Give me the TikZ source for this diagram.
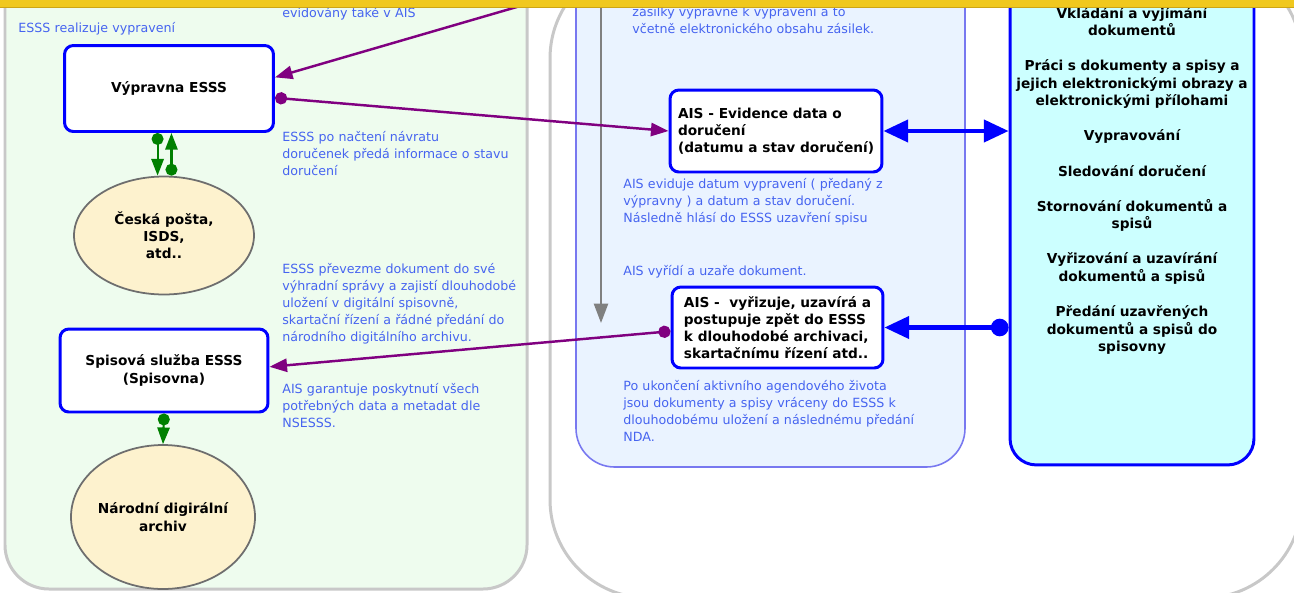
\documentclass[tikz,border=0pt]{standalone}
\usepackage{fontspec}
\setmainfont{DejaVu Sans}
\usetikzlibrary{arrows.meta,shapes.geometric}

\definecolor{zlutalista}{RGB}{240,200,30}
\definecolor{zlutaokraj}{RGB}{205,165,20}
\definecolor{sedaramu}{RGB}{200,200,200}
\definecolor{zelenypanel}{RGB}{238,252,238}
\definecolor{modrypanel}{RGB}{234,243,255}
\definecolor{modraramu}{RGB}{120,120,240}
\definecolor{azurova}{RGB}{204,255,255}
\definecolor{plnamodra}{RGB}{0,0,255}
\definecolor{poznamkova}{RGB}{70,100,240}
\definecolor{fialova}{RGB}{128,0,128}
\definecolor{zelena}{RGB}{0,128,0}
\definecolor{piskova}{RGB}{253,242,206}
\definecolor{sedaelipsy}{RGB}{110,110,110}
\definecolor{sedasipka}{RGB}{128,128,128}

\tikzset{
  ftri/.tip={Triangle[length=10pt,width=7.5pt]},
  fdot/.tip={Circle[length=7pt]},
  ztri/.tip={Triangle[length=9.5pt,width=7pt]},
  zdot/.tip={Circle[length=6.8pt]},
  mtri/.tip={Triangle[length=14pt,width=12.5pt]},
  mdot/.tip={Circle[length=10pt]},
}

\begin{document}
\begin{tikzpicture}[x=0.02cm,y=-0.02cm,
    krabice/.style={draw=plnamodra,line width=1.7pt,fill=white,rounded corners=5pt,
        font=\fontsize{7.8}{9.8}\selectfont\bfseries,align=center},
    krabicel/.style={krabice,align=left},
    elipsa/.style={ellipse,draw=sedaelipsy,line width=1pt,fill=piskova,inner sep=0pt,
        font=\fontsize{7.8}{9.8}\selectfont\bfseries,align=center},
    pozn/.style={anchor=base west,inner sep=0pt,text width=8cm,align=left,
        text=poznamkova,font=\fontsize{7.2}{9.8}\selectfont},
    spojfial/.style={draw=fialova,line width=1.4pt},
    spojzel/.style={draw=zelena,line width=1.2pt},
    spojmod/.style={draw=plnamodra,line width=2.3pt}]

% okraje obrazku
\useasboundingbox (0,0) rectangle (1294,592);
\clip (0,0) rectangle (1294,592);
\fill[white] (0,0) rectangle (1294,592);

% panely
\draw[draw=sedaramu,line width=1.7pt,fill=zelenypanel,rounded corners=25pt] (5,-40) rectangle (527,589);
\draw[draw=sedaramu,line width=1.7pt,fill=white,rounded corners=56pt] (550,-40) rectangle (1302,598);
\draw[draw=modraramu,line width=0.9pt,fill=modrypanel,rounded corners=22pt] (576,-40) rectangle (965,467);
\node[draw=plnamodra,line width=1.7pt,fill=azurova,rounded corners=15pt,
      minimum width=4.88cm,minimum height=10.1cm] (funkce) at (1132,212.5) {};

% seznam funkci
\node[anchor=base,inner sep=0pt,text width=4.85cm,align=center,
      font=\fontsize{7.8}{10}\selectfont\bfseries] (seznam) at (1132,18)
  {Vkládání a vyjímání\\dokumentů\\[10pt]
   Práci s dokumenty a spisy a\\jejich elektronickými obrazy a\\elektronickými přílohami\\[10pt]
   Vypravování\\[10pt]
   Sledování doručení\\[10pt]
   Stornování dokumentů a\\spisů\\[10pt]
   Vyřizování a uzavírání\\dokumentů a spisů\\[10pt]
   Předání uzavřených\\dokumentů a spisů do\\spisovny};

% uzly
\node[krabice,minimum width=4.18cm,minimum height=1.72cm] (vypravna) at (169,88.5) {Výpravna ESSS};
\node[elipsa,minimum width=3.6cm,minimum height=2.36cm] (posta) at (164,235.5) {Česká pošta,\\ISDS,\\atd..};
\node[krabice,minimum width=4.16cm,minimum height=1.66cm] (spisovna) at (164,370.5) {Spisová služba ESSS\\(Spisovna)};
\node[elipsa,minimum width=3.6cm,minimum height=2.88cm] (nda) at (163,517) {Národní digirální\\archiv};
\node[krabicel,minimum width=4.24cm,minimum height=1.64cm] (aisevid) at (776,131)
  {AIS - Evidence data o\\doručení\\(datumu a stav doručení)};
\node[krabicel,minimum width=4.22cm,minimum height=1.62cm] (aisvyr) at (777.5,327.5)
  {AIS -\ \ vyřizuje, uzavírá a\\postupuje zpět do ESSS\\k dlouhodobé archivaci,\\skartačnímu řízení atd..};

% poznamky
\node[pozn] (p1) at (18,32) {ESSS realizuje vypravení};
\node[pozn] (p2) at (282,17) {evidovány také v AIS};
\node[pozn] (p3) at (282,141) {ESSS po načtení návratu\\doručenek předá informace o stavu\\doručení};
\node[pozn] (p4) at (632,16) {zásilky výpravně k vypravení a to\\včetně elektronického obsahu zásilek.};
\node[pozn] (p5) at (623,188) {AIS eviduje datum vypravení ( předaný z\\výpravny ) a datum a stav doručení.\\Následně hlásí do ESSS uzavření spisu};
\node[pozn] (p6) at (623,275) {AIS vyřídí a uzaře dokument.};
\node[pozn] (p7) at (282,273) {ESSS převezme dokument do své\\výhradní správy a zajistí dlouhodobé\\uložení v digitální spisovně,\\skartační řízení a řádné předání do\\národního digitálního archivu.};
\node[pozn] (p8) at (282,393) {AIS garantuje poskytnutí všech\\potřebných data a metadat dle\\NSESSS.};
\node[pozn] (p9) at (623,390) {Po ukončení aktivního agendového života\\jsou dokumenty a spisy vráceny do ESSS k\\dlouhodobému uložení a následnému předání\\NDA.};

% spojnice
\coordinate (sipstart) at (601,-10);
\coordinate (sipkonec) at (601,323);
\draw[draw=sedasipka,line width=1.2pt,-{Triangle[length=11pt,width=8pt]}] (sipstart) -- (sipkonec);

\coordinate (zAIS) at (558,-5);
\draw[spojfial,-ftri] (zAIS) -- (vypravna.6);
\draw[spojfial,fdot-ftri] (vypravna.-5) -- (aisevid.west);
\draw[spojfial,fdot-ftri] (aisvyr.182) -- (spisovna.2);

\draw[spojzel,zdot-ztri] ([xshift=-6.5pt]vypravna.south) -- ([xshift=-6.5pt]vypravna.south |- posta.north);
\draw[spojzel,zdot-ztri] ([xshift=1.4pt]vypravna.south |- posta.north) -- ([xshift=1.4pt]vypravna.south);
\draw[spojzel,zdot-ztri] (spisovna.south) -- (nda.north);

\draw[spojmod,mtri-mtri] (aisevid.east) -- (aisevid.east -| funkce.west);
\draw[spojmod,mdot-mtri] (aisvyr.east -| funkce.west) -- (aisvyr.east);

% zluty pruh nahore
\fill[zlutalista] (0,0) rectangle (1294,7);
\draw[zlutaokraj,line width=0.8pt] (0,7.5) -- (1294,7.5);
\end{tikzpicture}
\end{document}
